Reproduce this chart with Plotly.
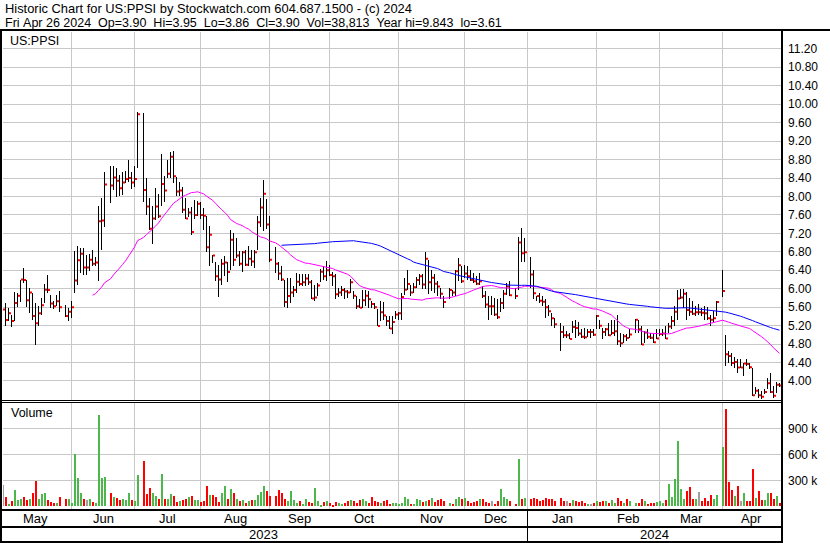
import numpy as np
import pandas as pd
import plotly.graph_objects as go

# ---------------- data ----------------
# one slot per weekday, 1 May 2023 .. 26 Apr 2024 (market holidays are empty slots)
dates = pd.bdate_range("2023-05-01", "2024-04-26")
N = None

high = [
 # May
 5.68,5.69,5.59,5.44,5.93,5.91,6.20,6.45,6.20,6.02,5.91,5.68,5.62,5.80,6.11,6.30,5.87,5.73,5.87,5.96,N,5.64,5.59,
 # Jun
 5.73,6.81,6.92,6.88,6.88,6.74,6.76,6.85,6.69,7.80,7.97,8.52,N,8.66,8.66,8.61,8.46,8.54,8.56,8.79,8.52,8.65,
 # Jul
 9.84,N,9.80,8.39,7.96,7.80,8.18,8.06,8.92,8.44,8.78,8.97,8.98,8.43,8.32,8.21,7.96,7.75,7.77,7.93,7.90,
 # Aug
 7.89,7.75,7.57,7.35,6.74,6.59,6.52,6.64,6.70,6.59,7.28,7.21,7.10,6.81,6.81,6.85,6.92,6.83,6.85,7.57,7.96,8.36,7.95,
 # Sep
 7.58,N,6.90,6.58,6.49,6.20,6.23,6.23,6.05,6.34,6.33,6.33,6.33,6.31,6.20,6.09,6.13,6.43,6.49,6.61,6.51,
 # Oct
 6.36,6.31,6.02,6.05,6.02,5.98,6.21,5.95,5.84,5.77,5.98,5.98,5.95,5.73,5.69,5.55,5.73,5.72,5.41,5.41,5.41,5.52,
 # Nov
 5.50,5.91,6.23,6.40,6.09,6.13,6.25,6.31,6.31,6.80,6.63,6.41,6.31,6.16,6.02,5.84,N,6.02,5.98,6.41,6.67,6.49,
 # Dec
 6.51,6.49,6.41,6.34,6.28,6.34,6.05,5.95,5.84,5.84,5.80,5.77,5.80,5.98,6.13,6.16,N,6.02,7.13,7.31,7.10,
 # Jan
 N,6.69,6.41,5.85,5.91,5.84,5.77,5.64,5.48,5.37,N,5.26,5.19,5.08,5.05,5.30,5.33,5.28,5.12,5.15,5.13,5.12,5.12,
 # Feb
 5.42,5.33,5.15,5.15,5.26,5.32,5.33,5.44,5.05,5.01,5.01,5.12,N,5.35,5.33,5.19,5.08,5.12,5.05,5.01,5.12,
 # Mar
 5.12,5.12,5.19,5.26,5.41,5.62,5.98,5.99,5.99,5.94,5.80,5.73,5.62,5.66,5.59,5.62,5.61,5.44,5.51,5.73,N,
 # Apr
 6.41,4.99,4.65,4.61,4.51,4.47,4.47,4.40,4.47,4.40,4.29,3.88,3.82,3.79,3.82,4.07,4.18,3.89,3.97,3.95,
]
low = [
 5.00,5.19,5.30,5.17,5.30,5.61,5.71,6.12,5.61,5.48,5.33,4.78,5.19,5.44,5.69,5.91,5.59,5.56,5.62,5.50,N,5.39,5.30,
 5.37,5.91,6.09,6.34,6.30,6.30,6.38,6.49,6.49,6.16,6.83,7.33,N,7.85,8.14,7.99,8.00,8.03,8.30,8.32,8.16,8.21,
 8.61,N,7.87,7.59,7.28,6.98,7.48,7.53,7.80,7.89,8.41,8.41,8.29,8.01,8.00,7.64,7.51,7.55,7.17,7.51,7.58,
 7.51,7.28,6.79,6.49,6.56,6.16,5.82,6.09,6.27,6.14,6.40,6.49,6.67,6.49,6.36,6.49,6.49,6.49,6.45,6.83,7.34,7.26,7.30,
 6.59,N,6.34,6.20,6.16,5.61,5.59,5.68,5.82,5.91,6.05,6.05,6.05,6.09,5.77,5.73,5.84,6.14,6.20,6.16,6.27,
 6.05,5.77,5.82,5.84,5.78,5.80,5.91,5.77,5.55,5.59,5.59,5.62,5.59,5.59,5.55,5.19,5.30,5.33,5.19,5.12,5.01,5.34,
 5.33,5.33,5.87,5.97,5.84,5.91,6.02,6.09,5.99,5.99,5.89,5.95,5.91,5.84,5.77,5.58,N,5.77,5.84,5.84,6.16,6.13,
 6.24,6.20,6.16,6.13,6.09,6.09,5.80,5.59,5.33,5.44,5.41,5.35,5.49,5.55,5.87,5.84,N,5.77,5.98,6.59,6.59,
 N,6.02,5.78,5.73,5.69,5.62,5.37,5.41,5.19,5.15,N,4.64,4.94,4.94,4.90,5.05,4.94,4.97,4.94,4.90,4.96,4.94,4.97,
 5.12,5.12,4.92,4.97,4.97,5.00,4.97,4.79,4.74,4.83,4.86,4.94,N,5.05,5.05,4.79,4.83,4.90,4.90,4.83,4.90,
 4.97,4.97,4.90,5.05,5.12,5.19,5.33,5.77,5.59,5.32,5.41,5.42,5.41,5.44,5.41,5.33,5.33,5.19,5.26,5.41,N,
 5.82,4.33,4.40,4.33,4.29,4.18,4.29,4.11,4.33,4.25,3.68,3.71,3.64,3.61,3.71,3.82,3.75,3.64,3.75,3.86,
]
close = [
 5.55,5.32,5.47,5.30,5.69,5.85,6.20,6.19,5.75,5.92,5.41,5.25,5.47,5.64,5.98,5.97,5.68,5.62,5.73,5.60,N,5.41,5.50,
 5.60,6.18,6.62,6.76,6.46,6.46,6.63,6.54,6.57,7.46,7.48,8.26,N,8.24,8.41,8.34,8.18,8.30,8.38,8.40,8.30,8.38,
 9.78,N,8.14,7.78,7.30,7.52,7.78,7.57,8.27,8.13,8.49,8.86,8.44,8.11,8.13,7.71,7.52,7.65,7.23,7.60,7.84,
 7.60,7.58,6.90,7.17,6.72,6.27,6.20,6.54,6.57,6.36,7.06,6.63,6.72,6.54,6.79,6.52,6.65,6.59,6.79,7.44,7.76,8.06,7.39,
 6.63,N,6.54,6.33,6.20,5.71,5.84,5.92,5.97,6.15,6.10,6.14,6.22,6.14,5.79,5.81,6.07,6.37,6.27,6.40,6.30,
 6.27,5.88,5.92,5.97,5.94,5.92,6.14,5.85,5.62,5.59,5.75,5.85,5.77,5.67,5.60,5.19,5.49,5.42,5.30,5.14,5.28,5.44,
 5.47,5.82,5.98,6.10,5.92,6.03,6.19,6.27,6.09,6.65,6.14,6.24,6.11,6.05,5.89,5.71,N,5.97,5.92,6.38,6.51,6.16,
 6.33,6.27,6.19,6.16,6.11,6.16,5.84,5.66,5.62,5.62,5.44,5.38,5.69,5.89,6.05,5.86,N,5.84,7.00,6.77,6.79,
 N,6.31,5.90,5.84,5.74,5.72,5.60,5.51,5.36,5.23,N,5.06,4.99,4.99,4.91,5.17,5.15,5.03,4.96,4.95,5.06,5.06,5.00,
 5.41,5.20,5.06,5.12,4.99,5.04,5.08,4.86,4.82,4.97,4.93,5.01,N,5.33,5.12,4.79,5.05,4.96,4.94,4.84,4.92,
 5.02,5.03,4.92,5.18,5.30,5.50,5.79,5.81,5.89,5.54,5.50,5.46,5.49,5.49,5.48,5.47,5.36,5.33,5.36,5.71,N,
 5.95,4.58,4.54,4.39,4.41,4.29,4.29,4.38,4.37,4.30,3.69,3.79,3.69,3.66,3.76,3.95,3.76,3.68,3.92,3.90,
]
volume_k = [
 246,104,30,60,185,70,90,110,70,85,160,290,80,140,150,70,50,35,40,110,N,80,80,
 35,600,330,160,85,70,80,50,40,1060,330,340,N,150,110,95,70,80,70,160,75,60,
 360,N,520,140,210,150,120,80,370,90,90,140,120,55,65,70,80,110,120,70,70,
 50,60,230,130,130,110,50,150,230,90,200,150,80,60,70,40,60,70,70,130,170,230,180,
 120,N,120,190,150,80,60,180,70,40,60,30,90,50,40,210,60,20,50,60,40,
 20,50,40,30,40,60,70,60,40,70,90,60,40,110,60,50,40,60,70,30,40,40,
 30,40,110,90,30,30,90,70,50,60,70,100,50,70,80,60,N,40,30,90,110,80,
 100,60,40,50,60,90,80,50,40,60,30,60,200,110,80,60,N,30,550,90,100,
 N,90,100,80,60,70,100,90,90,60,N,100,60,60,40,70,60,50,60,40,30,30,40,
 60,50,60,60,40,70,40,100,60,40,80,60,N,40,40,90,60,30,40,40,50,
 60,40,70,260,110,320,760,200,80,180,220,90,80,170,60,100,60,130,80,130,N,
 680,1120,280,190,120,230,60,150,60,60,430,100,180,70,70,150,160,90,120,39,
]
price_ticks = [round(4.0 + 0.4 * k, 2) for k in range(19)]
vol_ticks = [300000, 600000, 900000]
vol_tick_text = ["300 k", "600 k", "900 k"]
month_names = ["May", "Jun", "Jul", "Aug", "Sep", "Oct", "Nov", "Dec", "Jan", "Feb", "Mar", "Apr"]
years = ["2023", "2024"]
header1 = "Historic Chart for US:PPSI by Stockwatch.com 604.687.1500 - (c) 2024"
header2 = "Fri Apr 26 2024  Op=3.90  Hi=3.95  Lo=3.86  Cl=3.90  Vol=38,813  Year hi=9.843  lo=3.61"

assert len(dates) == len(high) == len(low) == len(close) == len(volume_k) == 260

# ---------------- derived ----------------
n = len(dates)
idx = np.arange(n)
cl = pd.Series([np.nan if c is None else c for c in close], dtype=float)
valid = cl.dropna()
ma30 = valid.rolling(30).mean()
ma90 = valid.rolling(90).mean()

# volume colours: up green, down red, unchanged grey
vol_x, vol_y, vol_c = [], [], []
prev = None
for i in range(n):
    if close[i] is None:
        continue
    if prev is None or close[i] == prev:
        col = "#a0a0a0"
    elif close[i] > prev:
        col = "#4cb84c"
    else:
        col = "#ff0000"
    prev = close[i]
    vol_x.append(i)
    vol_y.append(volume_k[i] * 1000)
    vol_c.append(col)

hl_x = [i for i in range(n) if high[i] is not None]
hl_base = [low[i] for i in hl_x]
hl_len = [high[i] - low[i] for i in hl_x]

# month gridlines (first weekday of month; months starting on weekend drawn one slot earlier)
per = dates.to_period("M")
grid = []
for p in per.unique()[1:]:
    i = int(np.argmax(per == p))
    if p.start_time.weekday() >= 5:
        i -= 1
    grid.append(i)

# ---------------- figure ----------------
L, R, T, B = 3, 49, 32, 34
W, H = 830, 543
PW, PH = W - L - R, H - T - B
def px(xp):
    return (xp - L) / PW
def py(yp):
    return (H - B - yp) / PH

FONT = "Liberation Sans, Arial, sans-serif"
fig = go.Figure()
fig.add_trace(go.Bar(x=hl_x, y=hl_len, base=hl_base, width=1/3, offset=-1/6,
                     marker=dict(color="black", line=dict(width=0)),
                     xaxis="x", yaxis="y", hoverinfo="skip"))
fig.add_trace(go.Scatter(x=idx + 0.5, y=cl, mode="markers",
                         marker=dict(symbol="square", size=2, color="#ff0000", line=dict(width=0)),
                         xaxis="x", yaxis="y", hoverinfo="skip"))
fig.add_trace(go.Scatter(x=valid.index, y=ma30, mode="lines", line=dict(color="#ff00ff", width=1),
                         xaxis="x", yaxis="y", hoverinfo="skip"))
fig.add_trace(go.Scatter(x=valid.index, y=ma90, mode="lines", line=dict(color="#0000ff", width=1),
                         xaxis="x", yaxis="y", hoverinfo="skip"))
fig.add_trace(go.Bar(x=vol_x, y=vol_y, width=2/3, offset=-1/6, marker=dict(color=vol_c, line=dict(width=0)),
                     xaxis="x", yaxis="y2", hoverinfo="skip"))

price_dom = [py(400), 1]
vol_dom = [0, py(403)]
x0 = 1/6
fig.update_layout(
    width=W, height=H, margin=dict(l=L, r=R, t=T, b=B),
    paper_bgcolor="white", plot_bgcolor="white", showlegend=False, bargap=0, barmode="overlay",
    font=dict(family=FONT, size=12, color="black"),
    xaxis=dict(range=[x0, x0 + PW / 3], tickvals=grid, showticklabels=False, ticks="",
               showgrid=True, gridcolor="#c8c8c8", gridwidth=1, zeroline=False, anchor="y2"),
    yaxis=dict(domain=price_dom, range=[3.588, 11.565], side="right", tickvals=price_ticks,
               tickformat=".2f", ticks="", showgrid=True, gridcolor="#c8c8c8", gridwidth=1,
               zeroline=False, anchor="x", ticklabelstandoff=6, tickfont=dict(size=12)),
    yaxis2=dict(domain=vol_dom, range=[-30000, 1193000], side="right", tickvals=vol_ticks,
                ticktext=vol_tick_text, ticks="", showgrid=True, gridcolor="#c8c8c8",
                gridwidth=1, zeroline=False, anchor="x", ticklabelstandoff=6, tickfont=dict(size=12)),
)

shapes = []
def rect(xa, xb, ya, yb):
    shapes.append(dict(type="rect", xref="paper", yref="paper", x0=px(xa), x1=px(xb),
                       y0=py(yb), y1=py(ya), fillcolor="black", line=dict(width=0), layer="above"))
rect(0, W, 29, 31)          # header rule
rect(0, 2, 29, 543)         # left border
rect(781, 783, 29, 543)     # right axis line
rect(0, 783, 400, 401)      # panel separator (double)
rect(0, 783, 402, 403)
rect(0, 783, 509, 511)      # bottom of volume panel
rect(0, 783, 526, 528)      # below month row
rect(0, 783, 541, 543)      # below year row
jan_px = 2 + 3 * grid[7]
rect(jan_px, jan_px + 1, 510, 541)
fig.update_layout(shapes=shapes)

ann = []
def text(s, xp, yp, size=12.5, anchor="left"):
    ann.append(dict(text=s, xref="paper", yref="paper", x=px(xp), y=py(yp), xanchor=anchor,
                    yanchor="middle", showarrow=False, font=dict(size=size, family=FONT, color="black")))
text(header1.replace(" ", "\u00a0"), 3, 9, size=12.9)
text(header2.replace(" ", "\u00a0"), 3, 23)
text("US:PPSI", 8, 41)
text("Volume", 9, 413)
bounds = [-2.5 / 3] + grid + [(781 - 2.5) / 3]
for k, m in enumerate(month_names):
    c = (bounds[k] + bounds[k + 1]) / 2
    ann.append(dict(text=m, xref="x", yref="paper", x=c, y=py(518), xanchor="center", yanchor="middle",
                    showarrow=False, font=dict(size=13, family=FONT, color="black")))
ybounds = [bounds[0], grid[7], bounds[-1]]
for k, yv in enumerate(years):
    c = (ybounds[k] + ybounds[k + 1]) / 2
    ann.append(dict(text=yv, xref="x", yref="paper", x=c, y=py(534), xanchor="center", yanchor="middle",
                    showarrow=False, font=dict(size=13, family=FONT, color="black")))
fig.update_layout(annotations=ann)

fig.write_html("out.html", config={"displayModeBar": False},
               post_script="document.body.style.margin='0';document.body.style.padding='0';")
